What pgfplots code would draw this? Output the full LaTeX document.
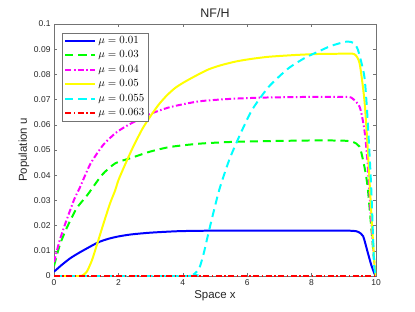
\documentclass[border=0pt]{standalone}
\usepackage{pgfplots}
\pgfplotsset{compat=1.18}
\usepackage{fontspec}
\setmainfont{Liberation Sans}
\definecolor{axgray}{gray}{0.45}
\definecolor{txtgray}{gray}{0.15}
\definecolor{cB}{rgb}{0,0,1}
\definecolor{cG}{rgb}{0,1,0}
\definecolor{cM}{rgb}{1,0,1}
\definecolor{cY}{rgb}{1,1,0}
\definecolor{cC}{rgb}{0,1,1}
\definecolor{cR}{rgb}{1,0,0}
\begin{document}
\begin{tikzpicture}
\path (-54bp,-36bp) rectangle (361bp,276bp);
\begin{axis}[
  scale only axis,
  width=322bp, height=252bp,
  xmin=0, xmax=10, ymin=0, ymax=0.1,
  xtick={0,2,4,6,8,10},
  ytick={0,0.01,0.02,0.03,0.04,0.05,0.06,0.07,0.08,0.09,0.1},
  tick align=inside,
  major tick length=3bp,
  axis line style={axgray, line width=0.6pt},
  tick style={axgray, line width=0.5pt},
  /pgf/number format/assume math mode=true,
  yticklabel style={/pgf/number format/fixed, /pgf/number format/precision=2, font=\fontsize{8.5}{9}\selectfont, text=txtgray},
  xticklabel style={font=\fontsize{8.5}{9}\selectfont, text=txtgray},
  scaled y ticks=false,
  title={NF/H},
  title style={font=\fontsize{12.5}{13}\selectfont, text=txtgray, yshift=-3bp},
  xlabel={Space x},
  ylabel={Population u},
  label style={font=\fontsize{11.5}{12}\selectfont, text=txtgray},
  xlabel style={yshift=2bp},
  ylabel style={yshift=-2bp},
  legend cell align=left,
  legend style={at={(0.025,0.966)}, anchor=north west, font=\fontsize{10.5}{11}\selectfont, draw=axgray, line width=0.5pt, inner xsep=2pt, inner ysep=1.5pt, row sep=2pt},
  legend image code/.code={\draw[#1] plot coordinates {(0bp,0bp) (30bp,0bp)};},
]
\addplot[cB, solid, line width=2pt, smooth, tension=0.4] coordinates {
(0,0.0017) (0.25,0.0045) (0.5,0.0070) (0.75,0.0090) (1.0,0.0108) (1.38,0.0134) (1.7,0.0148) (2.0,0.0157) (2.4,0.0165) (3.0,0.0172) (3.9,0.0178) (5.0,0.0180) (6,0.0180) (7,0.0180) (8,0.0180) (9,0.0180) (9.3,0.0179) (9.45,0.0175) (9.6,0.0158) (9.74,0.0095) (9.85,0.0045) (9.95,0.0010) (10,0)
};
\addlegendentry{$\mu = 0.01$}
\addplot[cG, line width=2pt, dash pattern=on 8pt off 5pt, smooth, tension=0.4] coordinates {
(0,0.0040) (0.18,0.0123) (0.39,0.0189) (0.7,0.0268) (1.04,0.0322) (1.49,0.0401) (1.9,0.0447) (2.36,0.0467) (2.97,0.0493) (3.6,0.0512) (4.5,0.0525) (5.5,0.0532) (6.5,0.0535) (7.5,0.0537) (8.2,0.0538) (9.0,0.0537) (9.28,0.0532) (9.49,0.0513) (9.64,0.0434) (9.74,0.0354) (9.85,0.0196) (9.95,0.005) (10,0)
};
\addlegendentry{$\mu = 0.03$}
\addplot[cM, line width=2pt, dash pattern=on 6pt off 2.5pt on 1.5pt off 2.5pt, smooth, tension=0.4] coordinates {
(0,0.0055) (0.18,0.0143) (0.39,0.0222) (0.64,0.0308) (0.8,0.035) (1.13,0.0445) (1.54,0.0522) (1.95,0.0571) (2.36,0.0603) (2.97,0.0642) (3.6,0.0670) (4.5,0.0693) (5.5,0.0703) (6.5,0.0708) (7.5,0.0710) (8.2,0.0711) (9.0,0.0711) (9.23,0.0708) (9.49,0.0672) (9.64,0.058) (9.74,0.0447) (9.85,0.0222) (9.95,0.005) (10,0)
};
\addlegendentry{$\mu = 0.04$}
\addplot[cY, solid, line width=2pt, smooth, tension=0.4] coordinates {
(0,0) (0.8,0) (0.9,0.0004) (1.02,0.0017) (1.18,0.0063) (1.33,0.0123) (1.54,0.0209) (1.74,0.0288) (1.9,0.034) (2.0,0.038) (2.2,0.044) (2.46,0.0513) (2.75,0.0585) (3.0,0.0635) (3.25,0.068) (3.5,0.0716) (3.75,0.0745) (4.0,0.0766) (4.25,0.0784) (4.5,0.0801) (4.82,0.0821) (5.2,0.0837) (5.64,0.0851) (6.1,0.0861) (6.67,0.087) (7.5,0.0877) (8.2,0.0881) (9.0,0.0882) (9.33,0.0880) (9.49,0.0844) (9.64,0.0698) (9.74,0.0513) (9.85,0.026) (9.95,0.005) (10,0)
};
\addlegendentry{$\mu = 0.05$}
\addplot[cC, line width=2pt, dash pattern=on 8pt off 5pt, smooth, tension=0.4] coordinates {
(0,0) (4.2,0) (4.35,0.0008) (4.51,0.003) (4.65,0.009) (4.82,0.0183) (5.13,0.0341) (5.44,0.046) (5.75,0.0553) (6.15,0.0659) (6.67,0.0751) (7.28,0.0824) (7.8,0.0866) (8.2,0.089) (8.6,0.0913) (9.08,0.093) (9.3,0.0925) (9.44,0.0897) (9.64,0.079) (9.74,0.062) (9.85,0.0354) (9.94,0.005) (10,0)
};
\addlegendentry{$\mu = 0.055$}
\addplot[cR, line width=2pt, dash pattern=on 6pt off 2.5pt on 1.5pt off 2.5pt] coordinates {
(0,0) (10,0)
};
\addlegendentry{$\mu = 0.063$}
\end{axis}
\end{tikzpicture}
\end{document}
